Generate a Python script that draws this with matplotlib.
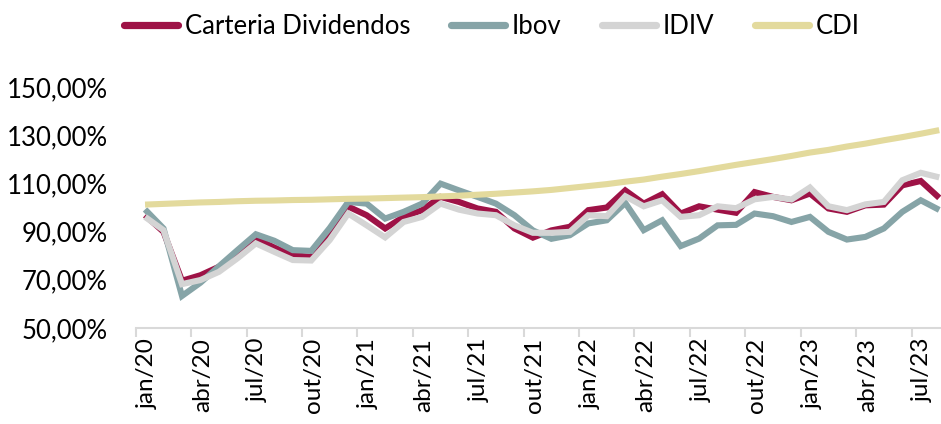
import matplotlib
matplotlib.use("Agg")
import matplotlib.pyplot as plt
import matplotlib.transforms as mtransforms

months = ["jan/20", "fev/20", "mar/20", "abr/20", "mai/20", "jun/20", "jul/20", "ago/20", "set/20", "out/20", "nov/20", "dez/20",
          "jan/21", "fev/21", "mar/21", "abr/21", "mai/21", "jun/21", "jul/21", "ago/21", "set/21", "out/21", "nov/21", "dez/21",
          "jan/22", "fev/22", "mar/22", "abr/22", "mai/22", "jun/22", "jul/22", "ago/22", "set/22", "out/22", "nov/22", "dez/22",
          "jan/23", "fev/23", "mar/23", "abr/23", "mai/23", "jun/23", "jul/23", "ago/23"]

carteira = [96.8, 89.9, 69.6, 71.9, 75.4, 80.2, 87.1, 83.4, 80.2, 79.5, 90.5, 100.4,
            96.8, 91.3, 96.1, 98.9, 104.4, 102.3, 99.6, 98.2, 91.3, 87.5, 90.5, 92.0,
            98.9, 100.0, 107.1, 101.6, 105.5, 97.5, 100.5, 99.1, 97.8, 106.4, 104.4, 103.0,
            105.8, 99.6, 98.2, 100.9, 101.2, 109.2, 111.0, 104.0]

ibov = [99.2, 91.3, 63.3, 68.8, 75.6, 82.3, 88.9, 86.2, 82.3, 82.0, 91.5, 102.3,
        101.6, 95.4, 98.2, 101.6, 109.9, 107.1, 104.4, 101.6, 96.8, 90.5, 87.0, 88.5,
        93.4, 94.7, 101.9, 90.6, 94.7, 84.0, 87.1, 92.6, 92.8, 97.5, 96.4, 94.0,
        96.1, 89.9, 86.7, 87.8, 91.3, 98.2, 103.0, 99.0]

idiv = [96.1, 90.6, 68.2, 69.9, 73.3, 78.9, 85.1, 81.6, 78.2, 78.0, 86.5, 97.5,
        92.6, 87.6, 94.0, 96.1, 101.6, 99.1, 97.5, 96.8, 92.6, 89.5, 89.5, 89.9,
        96.8, 96.4, 104.7, 100.5, 103.0, 96.1, 96.8, 100.5, 99.7, 103.4, 104.4, 103.3,
        108.3, 100.5, 98.9, 101.3, 102.3, 111.3, 114.4, 112.5]

cdi = [101.2, 101.5, 101.8, 102.1, 102.3, 102.6, 102.8, 102.9, 103.1, 103.2, 103.4, 103.6,
       103.7, 103.9, 104.1, 104.3, 104.6, 104.9, 105.3, 105.7, 106.2, 106.7, 107.3, 108.1,
       108.9, 109.7, 110.7, 111.6, 112.8, 113.9, 115.1, 116.4, 117.7, 118.9, 120.1, 121.4,
       122.8, 123.9, 125.3, 126.5, 127.9, 129.2, 130.6, 132.1]

series_names = ["Carteria Dividendos", "Ibov", "IDIV", "CDI"]
yticks = [50, 70, 90, 110, 130, 150]

plt.rcParams['font.family'] = ['Lato', 'DejaVu Sans']

W, H = 941, 424
fig = plt.figure(figsize=(W / 100, H / 100), dpi=100)
left_px, right_px, top_px, bottom_px = 135.8, 941.0, 87.0, 328.0
ax = fig.add_axes([left_px / W, 1 - bottom_px / H, (right_px - left_px) / W, (bottom_px - top_px) / H])

x = list(range(len(months)))
colors = ["#9E1246", "#86A4A7", "#D4D4D4", "#E3DA9D"]
for vals, name, c in zip([carteira, ibov, idiv, cdi], series_names, colors):
    ax.plot(x, vals, color=c, lw=4.4, label=name, solid_joinstyle='miter', solid_capstyle='butt')

ax.set_xlim(-0.5, -0.5 + (right_px - left_px) / 18.47)
ax.set_ylim(50, 150)

ax.set_yticks(yticks)
ax.set_yticklabels([f"{v},00%" for v in yticks])
ax.tick_params(axis='y', length=0, pad=20, labelsize=18.5)

ax.set_xticks(x[::3])
ax.set_xticklabels(months[::3], rotation=90, va='top', ha='center')
ax.tick_params(axis='x', which='major', length=0, pad=7, labelsize=17.5)
ax.set_xticks([i - 0.5 for i in x[::3]], minor=True)
ax.tick_params(axis='x', which='minor', length=6.5, width=1.5, color='#D9D9D9')
offset = mtransforms.ScaledTranslation(2 / 100, 0, fig.dpi_scale_trans)
for lab in ax.get_xticklabels():
    lab.set_transform(lab.get_transform() + offset)

for s in ['top', 'right', 'left']:
    ax.spines[s].set_visible(False)
ax.spines['bottom'].set_color('#D9D9D9')
ax.spines['bottom'].set_linewidth(1.5)

leg = fig.legend(loc='center', bbox_to_anchor=(492 / W, 1 - 26 / H), ncol=4, frameon=False,
                 fontsize=18.5, handlelength=2.1, handletextpad=0.25, columnspacing=1.6)
for h in leg.get_lines():
    h.set_linewidth(5.2)
    h.set_solid_capstyle('round')

fig.savefig("out.png", dpi=100)
